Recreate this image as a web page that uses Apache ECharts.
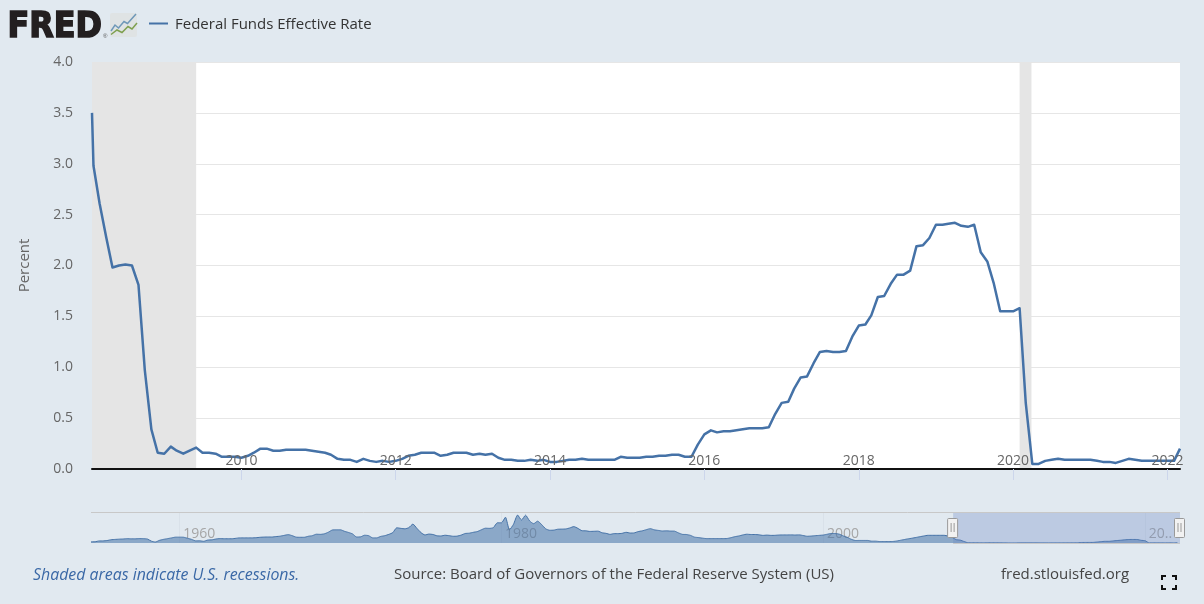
<!DOCTYPE html>
<html><head><meta charset="utf-8">
<style>html,body{margin:0;padding:0;background:#e1e9f0}#c{width:1204px;height:604px}</style>
<script src="https://cdn.jsdelivr.net/npm/echarts@6/dist/echarts.min.js"></script>
</head><body><div id="c"></div>
<script>
const seriesName = 'Federal Funds Effective Rate';
const yTicks = ['0.0','0.5','1.0','1.5','2.0','2.5','3.0','3.5','4.0'];
const mainYears = [2010,2012,2014,2016,2018,2020,2022];
const navYears = [1960,1980,2000,2020];
const recessionBands = [['2008-01-25','2009-06-01'],['2020-02-01','2020-03-28']];
const firstRate = 3.5;
// monthly, from Feb 2008
const rates2008 = [2.98,2.61,2.28,1.98,2.00,2.01,2.00,1.81,0.97,0.39,0.16];
const rates2009 = [0.15,0.22,0.18,0.15,0.18,0.21,0.16,0.16,0.15,0.12,0.12,0.12];
const rates2010 = [0.11,0.13,0.16,0.20,0.20,0.18,0.18,0.19,0.19,0.19,0.19,0.18];
const rates2011 = [0.17,0.16,0.14,0.10,0.09,0.09,0.07,0.10,0.08,0.07,0.08,0.07];
const rates2012 = [0.08,0.10,0.13,0.14,0.16,0.16,0.16,0.13,0.14,0.16,0.16,0.16];
const rates2013 = [0.14,0.15,0.14,0.15,0.11,0.09,0.09,0.08,0.08,0.09,0.08,0.09];
const rates2014 = [0.07,0.07,0.08,0.09,0.09,0.10,0.09,0.09,0.09,0.09,0.09,0.12];
const rates2015 = [0.11,0.11,0.11,0.12,0.12,0.13,0.13,0.14,0.14,0.12,0.12,0.24];
const rates2016 = [0.34,0.38,0.36,0.37,0.37,0.38,0.39,0.40,0.40,0.40,0.41,0.54];
const rates2017 = [0.65,0.66,0.79,0.90,0.91,1.04,1.15,1.16,1.15,1.15,1.16,1.30];
const rates2018 = [1.41,1.42,1.51,1.69,1.70,1.82,1.91,1.91,1.95,2.19,2.20,2.27];
const rates2019 = [2.40,2.40,2.41,2.42,2.39,2.38,2.40,2.13,2.04,1.83,1.55,1.55];
const rates2020 = [1.55,1.58,0.65,0.05,0.05,0.08,0.09,0.10,0.09,0.09,0.09,0.09];
const rates2021 = [0.09,0.08,0.07,0.07,0.06,0.08,0.10,0.09,0.08,0.08,0.08,0.08];
const rates2022 = [0.08,0.08,0.20];
const rates = [].concat(rates2008,rates2009,rates2010,rates2011,rates2012,rates2013,rates2014,rates2015,rates2016,rates2017,rates2018,rates2019,rates2020,rates2021,rates2022);
// navigator, quarterly from Jul 1954
const hist = [0.8,0.85,
1.39,1.43,1.68,2.24, 2.45,2.62,2.75,2.95, 2.84,2.85,2.99,2.96, 2.72,1.26,0.68,1.8, 2.48,2.96,3.47,3.98,
3.99,3.92,3.23,2.47, 1.45,1.49,1.17,2.0, 2.15,2.7,3.0,2.9, 2.9,2.9,3.2,3.5, 3.5,3.5,3.5,3.6,
3.9,4.05,4.1,4.1, 4.4,4.65,5.2,5.7, 5.0,4.0,3.9,3.9, 4.6,5.0,6.0,5.9, 6.3,7.4,8.9,9.0,
9.0,8.0,7.2,6.2, 4.1,4.2,5.3,5.0, 3.5,3.5,4.5,5.0, 5.9,7.1,10.4,10.0, 9.7,10.5,12.9,10.0,
7.1,5.5,6.1,5.8, 4.9,4.8,5.3,5.0, 4.6,4.7,5.4,6.5, 6.7,7.3,7.8,9.0, 10.1,10.0,10.5,13.8,
13.8,17.6,9.0,12.8, 19.1,15.7,19.0,15.1, 13.2,14.9,12.6,9.7, 8.7,8.8,9.4,9.5, 9.6,10.3,11.2,10.0,
8.4,8.3,7.9,8.0, 8.1,7.0,6.6,5.9, 6.4,6.4,6.6,7.3, 6.8,6.9,7.8,8.3, 9.1,9.8,9.0,8.6,
8.2,8.3,8.15,8.1, 6.9,5.9,5.8,5.2, 4.0,3.7,3.3,3.0, 3.0,3.0,3.0,3.0, 3.05,3.6,4.3,4.8,
5.5,6.0,5.8,5.8, 5.6,5.2,5.4,5.2, 5.25,5.45,5.5,5.5, 5.55,5.45,5.55,5.1, 4.6,4.75,5.0,5.2,
5.45,6.0,6.5,6.5, 6.0,4.8,3.8,2.5, 1.7,1.75,1.75,1.75, 1.25,1.25,1.0,1.0, 1.0,1.0,1.25,1.75,
2.3,2.8,3.25,3.75, 4.3,4.8,5.25,5.25, 5.25,5.25,5.25,4.75, 3.9,2.3,2.0,1.0, 0.15,0.15,0.16,0.12,
0.11,0.2,0.18,0.19, 0.17,0.1,0.07,0.07, 0.08,0.14,0.16,0.16, 0.14,0.15,0.09,0.09, 0.07,0.09,0.09,0.09,
0.11,0.12,0.13,0.12, 0.34,0.37,0.39,0.40, 0.65,0.90,1.15,1.15, 1.41,1.69,1.91,2.19, 2.40,2.42,2.40,1.83,
1.55,0.05,0.09,0.09, 0.09,0.07,0.10,0.08, 0.20];

const FONT = '"Open Sans", "Noto Sans", sans-serif';
const d = (y,m,day) => Date.UTC(y,m,day||1);
const iso = s => +new Date(s+'T00:00:00Z');
const xMin = iso(recessionBands[0][0]), xMax = d(2022,2);
const rateData = [[xMin, firstRate]].concat(rates.map((v,i)=>[d(2008,1+i), v]));
const histData = hist.map((v,i)=>[d(1954,6+i*3), v]);
const navMin = d(1954,6), navMax = d(2022,2);
const selStart = xMin;

const chart = echarts.init(document.getElementById('c'));
const option = {
  animation:false,
  backgroundColor:'#e1e9f0',
  textStyle:{fontFamily:FONT},
  grid:[
    {left:92,top:62,width:1088,height:407,backgroundColor:'#fff',show:true,borderWidth:0},
    {left:91,top:513,width:1089,height:30,show:false}
  ],
  xAxis:[
    {type:'value',gridIndex:0,min:xMin,max:xMax,scale:true,z:10,
     axisLine:{show:true,onZero:false,lineStyle:{color:'#111',width:2}},
     axisTick:{show:true,length:11,lineStyle:{color:'#ccd6eb',width:1},customValues:mainYears.map(y=>d(y,0))},
     splitLine:{show:false},
     axisLabel:{inside:true,margin:1,fontSize:14,color:'#666',fontFamily:FONT,hideOverlap:false,
       customValues:mainYears.map(y=>d(y,0)),
       formatter:v=>String(new Date(v).getUTCFullYear())}
    },
    {type:'value',gridIndex:1,min:navMin,max:navMax,scale:true,
     axisLine:{show:false},
     axisTick:{show:false,customValues:navYears.map(y=>d(y,0))},
     splitLine:{show:true,lineStyle:{color:'#d9e1e9',width:1}},
     axisLabel:{inside:true,margin:2,fontSize:14,color:'#a6a6a6',align:'left',fontFamily:FONT,hideOverlap:false,
       customValues:navYears.map(y=>d(y,0)),
       formatter:v=>{const y=new Date(v).getUTCFullYear();return ' '+(y===2020?'20..':y);}}
    }
  ],
  yAxis:[
    {type:'value',gridIndex:0,min:0,max:4,interval:0.5,
     name:'Percent',nameLocation:'middle',nameGap:60,nameRotate:90,
     nameTextStyle:{fontSize:15,color:'#666',fontFamily:FONT},
     axisLine:{show:false},axisTick:{show:false},
     axisLabel:{margin:19,fontSize:14,color:'#666',fontFamily:FONT,formatter:v=>yTicks[Math.round(v*2)]},
     splitLine:{lineStyle:{color:'#e6e6e6',width:1}}
    },
    {type:'value',gridIndex:1,min:0,max:20.5,show:false,splitLine:{show:false}}
  ],
  series:[
    {name:seriesName,type:'line',xAxisIndex:0,yAxisIndex:0,data:rateData,showSymbol:false,symbol:'none',z:5,
     lineStyle:{color:'#4572a7',width:2.5,join:'round'},
     markArea:{silent:true,itemStyle:{color:'#e5e5e5'},z:1,data:recessionBands.map(b=>[{xAxis:iso(b[0])},{xAxis:iso(b[1])}])}
    },
    {type:'line',xAxisIndex:1,yAxisIndex:1,data:histData,showSymbol:false,symbol:'none',smooth:0.2,z:3,
     lineStyle:{color:'#4572a7',width:1},
     areaStyle:{color:'#4572a7',opacity:0.55},
     markArea:{silent:true,z:4,itemStyle:{color:'rgba(102,133,194,0.3)'},data:[[{xAxis:selStart},{xAxis:navMax}]]}
    }
  ]
};
chart.setOption(option);

function handle(x){
  const y0=518,h=19,w=10;
  return [
    {type:'rect',z:100,shape:{x:x-w/2-.5,y:y0+.5,width:w,height:h,r:1},style:{fill:'#f2f2f2',stroke:'#999',lineWidth:1}},
    {type:'line',z:101,shape:{x1:x-2,y1:y0+5,x2:x-2,y2:y0+14},style:{stroke:'#999',lineWidth:1}},
    {type:'line',z:101,shape:{x1:x+1,y1:y0+5,x2:x+1,y2:y0+14},style:{stroke:'#999',lineWidth:1}}
  ];
}
function corner(x,y,dx,dy){
  return {type:'polyline',z:100,shape:{points:[[x+dx*4,y],[x,y],[x,y+dy*4]]},style:{fill:null,stroke:'#111',lineWidth:2}};
}
const sx = chart.convertToPixel({xAxisIndex:1},selStart);
const ex = chart.convertToPixel({xAxisIndex:1},navMax);
const txt=(x,y,t,o)=>({type:'text',z:100,x,y,style:Object.assign({text:t,fontFamily:FONT,fontSize:15,fill:'#444',textVerticalAlign:'middle',textBaseline:'middle'},o||{})});
chart.setOption({graphic:[
  {type:'text',z:100,x:7.5,y:28,scaleX:0.91,style:{text:'FRED',fontFamily:'"DejaVu Sans"',fontWeight:'bold',fontSize:35,fill:'#231f20',stroke:'#231f20',lineWidth:1.6,textBaseline:'middle',textVerticalAlign:'middle'}},
  {type:'text',z:100,x:103,y:36,style:{text:'®',fontSize:6,fill:'#555',textBaseline:'middle',textVerticalAlign:'middle'}},
  {type:'rect',z:100,shape:{x:110,y:13,width:27,height:24,r:2},style:{fill:'#dfe3e4'}},
  {type:'polyline',z:101,shape:{points:[[111,31],[115,25],[118.5,28],[124,21.5],[127.5,23.5],[136,14]]},style:{fill:null,stroke:'#6f98b8',lineWidth:1.5}},
  {type:'polyline',z:101,shape:{points:[[111,34.5],[117,30],[122,32.5],[128,26.5],[132,29],[137,23]]},style:{fill:null,stroke:'#7fa050',lineWidth:1.5}},
  {type:'line',z:100,shape:{x1:149,y1:23.5,x2:168,y2:23.5},style:{stroke:'#4572a7',lineWidth:2}},
  txt(175,25,seriesName,{fontWeight:500,fontSize:15,fill:'#333'}),
  {type:'line',z:50,shape:{x1:91,y1:512.5,x2:1180,y2:512.5},style:{stroke:'#c8c8c8',lineWidth:1}},
  {type:'line',z:50,shape:{x1:sx,y1:543.5,x2:ex,y2:543.5},style:{stroke:'#c8c8c8',lineWidth:1}},
  ...handle(sx),...handle(ex),
  txt(33,575,'Shaded areas indicate U.S. recessions.',{fontStyle:'italic',fontSize:15.9,fill:'#3a68a6'}),
  txt(394,575,'Source: Board of Governors of the Federal Reserve System (US)'),
  txt(1001,575,'fred.stlouisfed.org'),
  corner(1162,576,1,1),corner(1176,576,-1,1),corner(1162,589,1,-1),corner(1176,589,-1,-1)
]});
</script></body></html>
